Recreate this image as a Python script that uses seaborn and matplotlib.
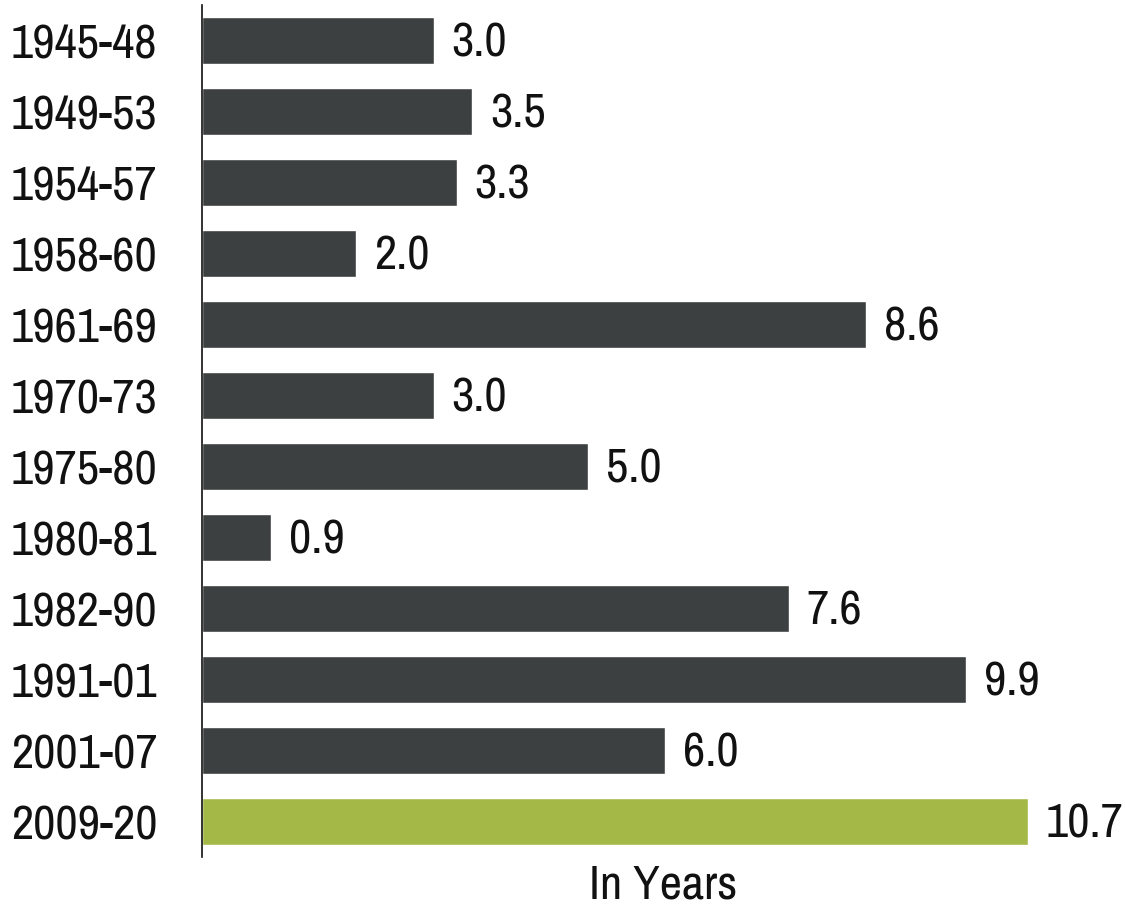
import matplotlib
matplotlib.use("Agg")
import matplotlib.pyplot as plt
import seaborn as sns
import pandas as pd

periods = ["1945-48", "1949-53", "1954-57", "1958-60", "1961-69", "1970-73",
           "1975-80", "1980-81", "1982-90", "1991-01", "2001-07", "2009-20"]
years = [3.0, 3.5, 3.3, 2.0, 8.6, 3.0, 5.0, 0.9, 7.6, 9.9, 6.0, 10.7]
bar_colors = ["#3d4040"] * 11 + ["#a3b846"]
x_label = "In Years"

sns.set_theme(style="white")
plt.rcParams['font.family'] = ['Archivo Narrow', 'Liberation Sans', 'DejaVu Sans']

df = pd.DataFrame({"period": periods, "years": years})

fig = plt.figure(figsize=(11.25, 9.07), dpi=100)
ax = fig.add_axes([202 / 1125, 1 - 857 / 907, 923 / 1125, 852 / 907])
sns.barplot(data=df, y="period", x="years", hue="period", palette=bar_colors,
            legend=False, orient="h", width=0.66, ax=ax, saturation=1)

ax.set_xlim(0, 923 / 77.2)
ax.set_ylim(11.5, -0.5)
FS = 35
for i, v in enumerate(years):
    ax.text(v + 0.23, i + 0.03, f"{v:.1f}", va="center", ha="left", fontsize=FS, color="#111111")

for s in ["top", "right", "bottom"]:
    ax.spines[s].set_visible(False)
ax.spines["left"].set_color("#111111")
ax.spines["left"].set_linewidth(1.2)
ax.set_xticks([])
ax.tick_params(axis="y", length=0, pad=32, labelsize=FS, labelcolor="#111111")
ax.set_ylabel("")
ax.set_xlabel(x_label, fontsize=FS, color="#111111", labelpad=5)

fig.savefig("out.png", dpi=100)
